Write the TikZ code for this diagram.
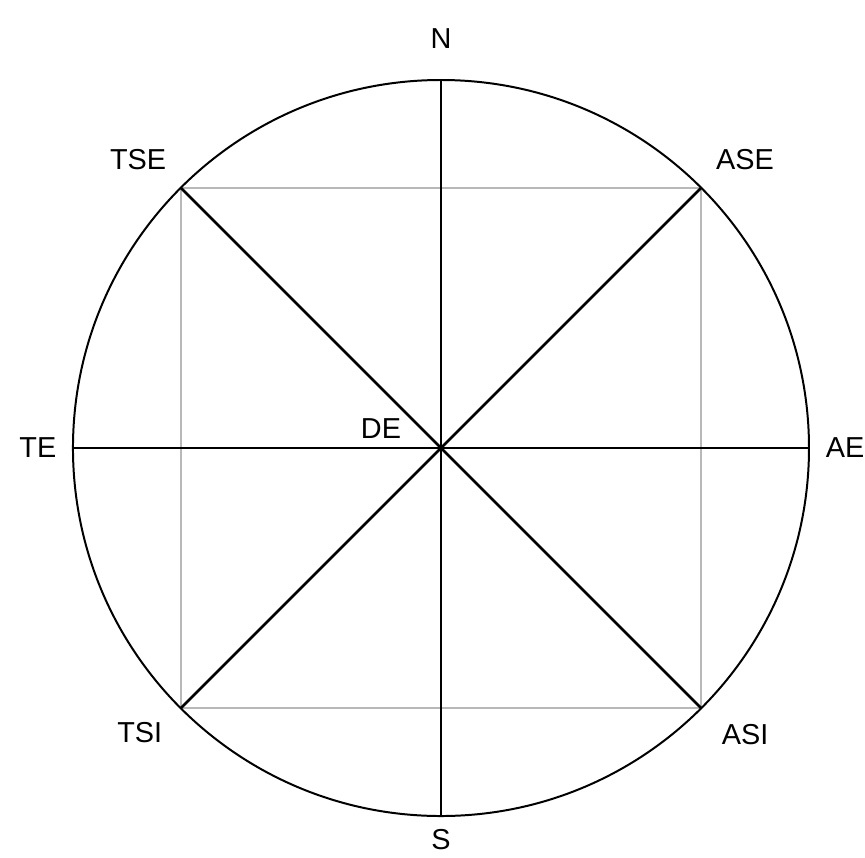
\documentclass[tikz,border=0pt]{standalone}
\usepackage{fontspec}
\setmainfont{Liberation Sans}
\usepackage{tikz}
\usetikzlibrary{calc}
\definecolor{frame}{rgb}{0.72, 0.72, 0.72}
\tikzset{
  axis/.style={black, line width=1.3pt},
  rim/.style={black, line width=1pt},
  box/.style={frame, line width=1pt},
  lbl/.style={font=\fontsize{14.5pt}{17pt}\selectfont, inner sep=0pt}
}
\begin{document}
\begin{tikzpicture}
    \useasboundingbox (-7.789,-7.224) rectangle (7.489,7.913);

    \coordinate (DEc) at (0,0);
    \coordinate (Np) at (90:6.5);
    \coordinate (Sp) at (270:6.5);
    \coordinate (TEp) at (180:6.5);
    \coordinate (AEp) at (0:6.5);
    \coordinate (TSEp) at (135:6.5);
    \coordinate (ASEp) at (45:6.5);
    \coordinate (TSIp) at (225:6.5);
    \coordinate (ASIp) at (315:6.5);

    \draw[box] (TSEp) -- (ASEp) -- (ASIp) -- (TSIp) -- cycle;
    \draw[rim] (DEc) circle (6.5);

    \draw[axis] (Np) -- (Sp);
    \draw[axis] (TEp) -- (AEp);
    \draw[axis] (TSEp) -- (ASIp);
    \draw[axis] (ASEp) -- (TSIp);

    \node[lbl] (N) at (0,7.24) {N};
    \node[lbl] (S) at (0,-6.92) {S};
    \node[lbl] (TE) at (-7.12,0) {TE};
    \node[lbl] (AE) at (7.14,0) {AE};
    \node[lbl] (TSE) at (-5.35,5.09) {TSE};
    \node[lbl] (ASE) at (5.37,5.09) {ASE};
    \node[lbl] (TSI) at (-5.32,-5.02) {TSI};
    \node[lbl] (ASI) at (5.37,-5.07) {ASI};
    \node[lbl] (DE) at (-1.06,0.35) {DE};

\end{tikzpicture}
\end{document}
